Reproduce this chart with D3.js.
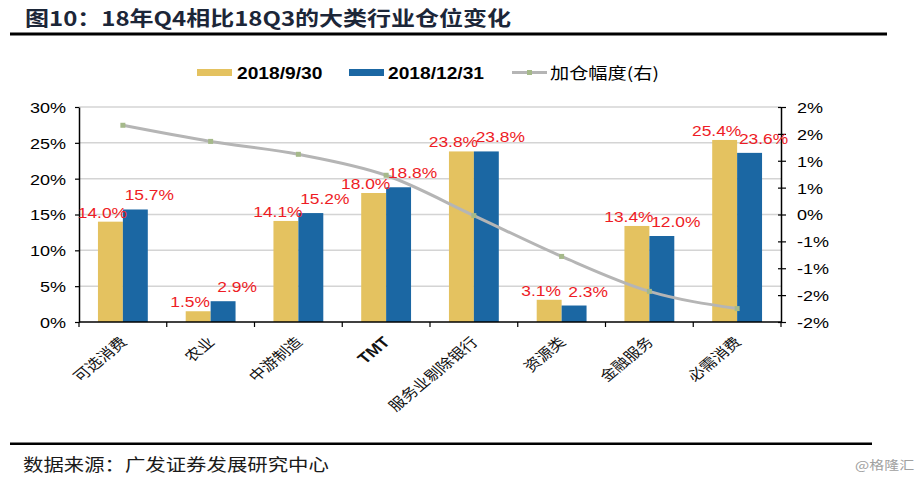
<!DOCTYPE html>
<html>
<head>
<meta charset="utf-8">
<script src="https://cdn.jsdelivr.net/npm/d3@7/dist/d3.min.js"></script>
<style>
  html, body { margin: 0; padding: 0; background: #fff; }
  svg { display: block; }
</style>
</head>
<body>
<svg id="chart" width="915" height="482"></svg>
<script>
// ---------------- data ----------------
const categories = ["可选消费", "农业", "中游制造", "TMT", "服务业剔除银行", "资源类", "金融服务", "必需消费"];
const q3Values = [14.0, 1.5, 14.1, 18.0, 23.8, 3.1, 13.4, 25.4];      // 2018/9/30 (%)
const q4Values = [15.7, 2.9, 15.2, 18.8, 23.8, 2.3, 12.0, 23.6];      // 2018/12/31 (%)
const changeValues = [1.66, 1.36, 1.12, 0.73, -0.02, -0.78, -1.43, -1.75]; // 加仓幅度 (%), right axis
const seriesNames = ["2018/9/30", "2018/12/31", "加仓幅度(右)"];
const leftTicks = [0, 5, 10, 15, 20, 25, 30];
const leftTickLabels = ["0%", "5%", "10%", "15%", "20%", "25%", "30%"];
const rightTicks = [-2, -1.5, -1, -0.5, 0, 0.5, 1, 1.5, 2];
const rightTickLabels = ["-2%", "-2%", "-1%", "-1%", "0%", "1%", "1%", "2%", "2%"];
const titleText = "图10：18年Q4相比18Q3的大类行业仓位变化";
const sourceText = "数据来源：广发证券发展研究中心";
const watermarkText = "@格隆汇";

// ---------------- styles ----------------
const SX = 1.2; // horizontal text stretch seen in the reference
const YELLOW = "#E4C260", BLUE = "#1B67A3", LINE = "#b5b5b5", MARK = "#a5b98a", RED = "#ee1c25";
const LATIN = "'Liberation Sans', Arial, sans-serif";
const CJK = "'Noto Sans CJK SC', 'Liberation Sans', sans-serif";

const svg = d3.select("#chart");
const m = { left: 79, right: 781, top: 107, bottom: 322 };

function txt(g, x, y, s, o = {}) {
  const t = g.append("text")
    .attr("transform", `translate(${x},${y}) scale(${SX},1)` + (o.rotate ? ` rotate(${o.rotate})` : ""))
    .attr("text-anchor", o.anchor || "start")
    .attr("font-family", o.family || LATIN)
    .attr("font-size", o.size || 15)
    .attr("font-weight", o.weight || "normal")
    .attr("fill", o.fill || "#000")
    .text(s);
  return t;
}

// ---------------- title & frame ----------------
txt(svg, 25, 26, titleText, { family: CJK, size: 20, weight: "bold", fill: "#1c2638" });
svg.append("rect").attr("x", 10).attr("y", 32.5).attr("width", 877).attr("height", 3).attr("fill", "#000");
svg.append("rect").attr("x", 10).attr("y", 442.5).attr("width", 862).attr("height", 2.5).attr("fill", "#000");
txt(svg, 23, 471, sourceText, { family: CJK, size: 17, fill: "#1a1a1a" });
txt(svg, 855, 470, watermarkText, { family: CJK, size: 12.5, fill: "#a0a0a0" });

// ---------------- scales ----------------
const x = d3.scaleBand().domain(categories).range([m.left, m.right]).padding(0);
const bw = x.bandwidth();
const inner = d3.scaleBand().domain([0, 1]).range([bw * 0.216, bw * 0.784]).padding(0);
const yL = d3.scaleLinear().domain([0, 30]).range([m.bottom, m.top]);
const yR = d3.scaleLinear().domain([-2, 2]).range([m.bottom, m.top]);

// ---------------- gridlines ----------------
svg.append("g").selectAll("line").data(leftTicks.filter(d => d > 0)).join("line")
  .attr("x1", m.left).attr("x2", m.right)
  .attr("y1", d => yL(d)).attr("y2", d => yL(d))
  .attr("stroke", "#d4d4d4").attr("stroke-width", 1.5);

// ---------------- bars ----------------
const barData = categories.map((c, i) => [
  { c, k: 0, v: q3Values[i] },
  { c, k: 1, v: q4Values[i] }
]).flat();

svg.append("g").selectAll("rect").data(barData).join("rect")
  .attr("x", d => x(d.c) + inner(d.k))
  .attr("width", inner.bandwidth())
  .attr("y", d => yL(d.v))
  .attr("height", d => yL(0) - yL(d.v))
  .attr("fill", d => d.k === 0 ? YELLOW : BLUE);

// ---------------- axes ----------------
const axL = svg.append("g").attr("transform", `translate(${m.left},0)`)
  .call(d3.axisLeft(yL).tickValues(leftTicks).tickFormat((d, i) => leftTickLabels[i]).tickSize(4).tickSizeOuter(0).tickPadding(0));
axL.select(".domain").attr("stroke", "#000").attr("stroke-width", 1.5);
axL.selectAll(".tick line").attr("stroke", "#000").attr("stroke-width", 1.2);
axL.selectAll(".tick text").attr("x", -13 / SX).attr("transform", `scale(${SX},1)`)
  .attr("font-family", LATIN).attr("font-size", 15).attr("fill", "#000").attr("dy", "0.36em");

const axR = svg.append("g").attr("transform", `translate(${m.right},0)`)
  .call(d3.axisRight(yR).tickValues(rightTicks).tickFormat((d, i) => rightTickLabels[i]).tickSize(5).tickSizeOuter(0).tickPadding(0));
axR.select(".domain").attr("stroke", "#000").attr("stroke-width", 1.5);
axR.selectAll(".tick line").attr("stroke", "#000").attr("stroke-width", 1.2).attr("x1", -3);
axR.selectAll(".tick text").attr("x", 16 / SX).attr("transform", `scale(${SX},1)`)
  .attr("font-family", LATIN).attr("font-size", 15).attr("fill", "#000").attr("dy", "0.36em");

// x axis baseline + boundary ticks
const boundaries = categories.map(c => x(c)).concat([m.right]);
const axB = svg.append("g");
axB.append("line").attr("x1", m.left).attr("x2", m.right).attr("y1", m.bottom).attr("y2", m.bottom)
  .attr("stroke", "#000").attr("stroke-width", 1.5);
axB.selectAll("line.tk").data(boundaries).join("line").attr("class", "tk")
  .attr("x1", d => d).attr("x2", d => d).attr("y1", m.bottom).attr("y2", m.bottom + 5)
  .attr("stroke", "#000").attr("stroke-width", 1.2);

// category labels, rotated
categories.forEach(c => {
  const latin = /^[A-Za-z]+$/.test(c);
  txt(svg, x(c) + bw / 2 + 5, m.bottom + 21, c, {
    anchor: "end", rotate: -45,
    family: latin ? LATIN : CJK, size: latin ? 15 : 14,
    weight: latin ? "bold" : "normal", fill: "#111"
  });
});

// ---------------- line (right axis) ----------------
const linePts = categories.map((c, i) => [x(c) + bw / 2, yR(changeValues[i])]);
svg.append("path").datum(linePts)
  .attr("d", d3.line().curve(d3.curveMonotoneX))
  .attr("fill", "none").attr("stroke", LINE).attr("stroke-width", 3);
svg.append("g").selectAll("rect").data(linePts).join("rect")
  .attr("x", d => d[0] - 2.5).attr("y", d => d[1] - 2.5)
  .attr("width", 5).attr("height", 5).attr("fill", MARK);

// ---------------- data labels ----------------
const lblG = svg.append("g");
barData.forEach(d => {
  const cx = x(d.c) + inner(d.k) + inner.bandwidth() / 2;
  const dx = d.k === 0 ? -8 : 14;
  const dy = d.k === 0 ? -4 : -9;
  txt(lblG, cx + dx, yL(d.v) + dy, d.v.toFixed(1) + "%", { anchor: "middle", size: 14.5, fill: RED });
});

// ---------------- legend ----------------
const lg = svg.append("g");
lg.append("rect").attr("x", 197).attr("y", 69).attr("width", 35).attr("height", 7).attr("fill", YELLOW);
txt(lg, 237, 79, seriesNames[0], { size: 16, weight: "bold" });
lg.append("rect").attr("x", 349).attr("y", 69).attr("width", 35).attr("height", 7).attr("fill", BLUE);
txt(lg, 388, 79, seriesNames[1], { size: 16, weight: "bold" });
lg.append("line").attr("x1", 512).attr("x2", 547).attr("y1", 72.5).attr("y2", 72.5)
  .attr("stroke", LINE).attr("stroke-width", 3);
lg.append("rect").attr("x", 527).attr("y", 70).attr("width", 5).attr("height", 5).attr("fill", MARK);
txt(lg, 550, 79, seriesNames[2], { family: CJK, size: 16, fill: "#000" });
</script>
</body>
</html>
